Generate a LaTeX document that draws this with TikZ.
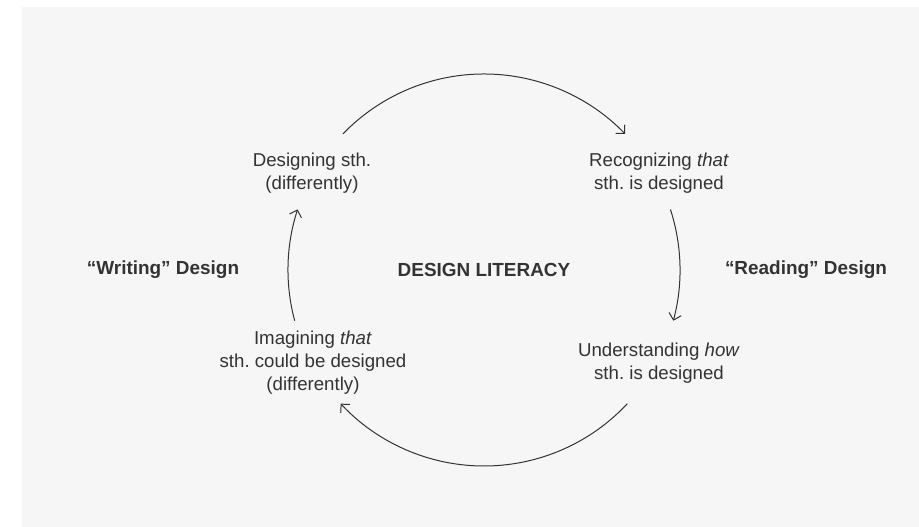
\documentclass[tikz,border=0pt]{standalone}
\usepackage{fontspec}
\setmainfont{Liberation Sans}
\usepackage{tikz}
\usetikzlibrary{arrows.meta}
\definecolor{bggray}{HTML}{F6F6F6}
\definecolor{ink}{HTML}{333333}
\frenchspacing

\begin{document}
\begin{tikzpicture}
          [x=0.75pt, y=0.75pt,
          font=\fontsize{14}{17.3}\selectfont,
          stage/.style={align=center, text=ink, inner sep=0pt},
          title/.style={text=ink, inner sep=0pt, font=\fontsize{14.2}{17.3}\selectfont\bfseries},
          arc/.style={draw=ink, line width=0.75pt, -{Straight Barb[length=4.6pt,width=9.4pt]}}]

            \useasboundingbox (0,0) rectangle (919,527);
            \fill[bggray] (22,0) rectangle (919,520);

            \coordinate (c) at (484,257);

            \node (lit) [title] at (c) {DESIGN LITERACY};
            \node (write) [title] at (163,257) {“Writing” Design};
            \node (read) [title] at (806,257) {“Reading” Design};

            \node (des) [stage] at (312,354) {Designing sth.\\(differently)};
            \node (rec) [stage] at (659,354) {Recognizing \textit{that}\\sth. is designed};
            \node (und) [stage] at (659,164) {Understanding \textit{how}\\sth. is designed};
            \node (ima) [stage] at (313,164) {Imagining \textit{that}\\sth. could be designed\\(differently)};

          % cycle, clockwise round the centre
          \draw [arc] ([shift={(136:196)}]c) arc [start angle=136, end angle=44, radius=196];
          \draw [arc] ([shift={(18:196)}]c) arc [start angle=18, end angle=-15, radius=196];
          \draw [arc] ([shift={(-43:196)}]c) arc [start angle=-43, end angle=-137, radius=196];
          \draw [arc] ([shift={(195:196)}]c) arc [start angle=195, end angle=162, radius=196];

        \end{tikzpicture}
\end{document}
